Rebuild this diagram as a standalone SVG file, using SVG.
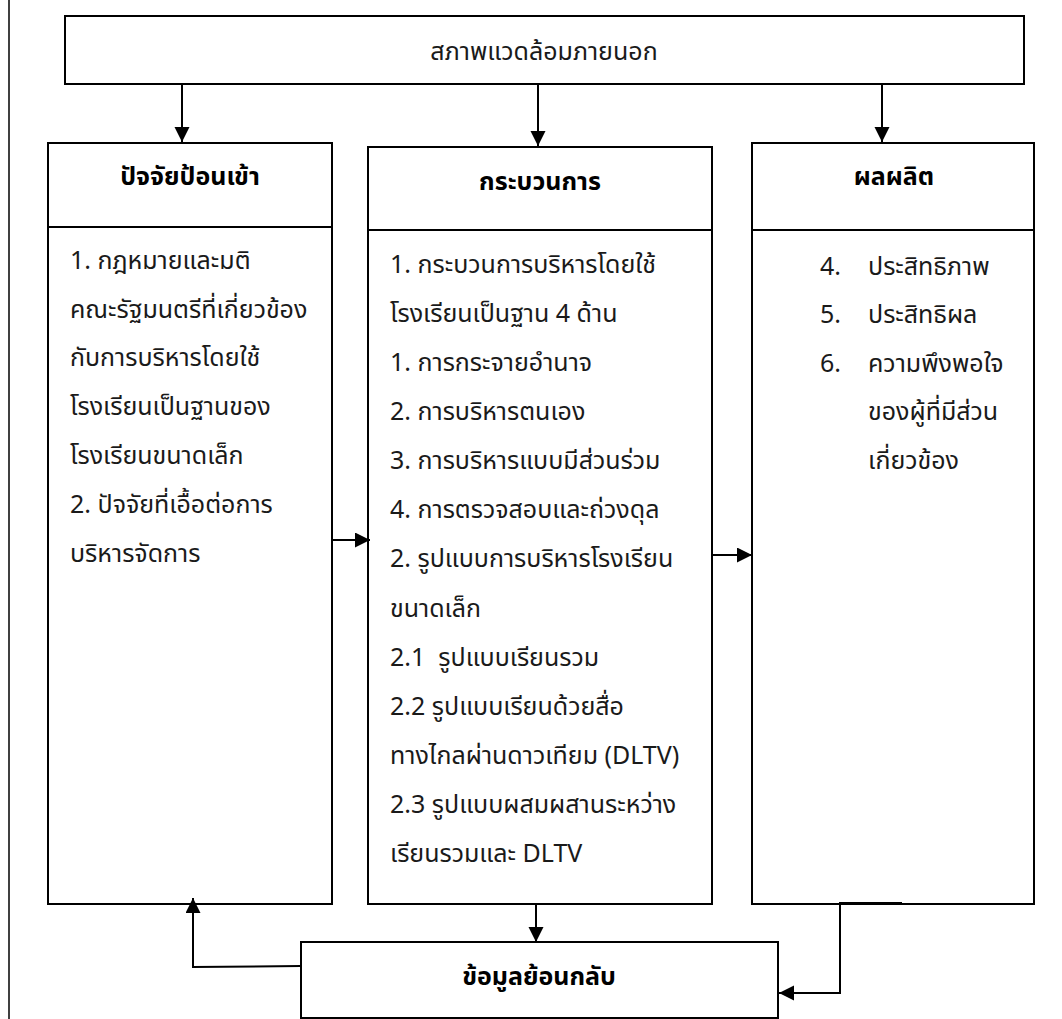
<svg xmlns="http://www.w3.org/2000/svg" width="1062" height="1019" viewBox="0 0 1062 1019">
<defs>
<style>
.box{fill:#fff;stroke:#000;stroke-width:2}
.ln{fill:none;stroke:#000;stroke-width:2}
text{font-family:'Noto Sans Thai','Tahoma','Noto Sans','DejaVu Sans',sans-serif;font-size:25px;fill:#1a1a1a}
.b{font-weight:bold;text-anchor:middle;fill:#000}
.c{text-anchor:middle}
</style>
<marker id="ah" markerUnits="userSpaceOnUse" markerWidth="16" markerHeight="16" viewBox="0 0 16 16" refX="15" refY="7.5" orient="auto">
<path d="M0,0 L15,7.5 L0,15 z" fill="#000"/>
</marker>
</defs>
<rect width="1062" height="1019" fill="#fff"/>
<line x1="9" y1="0" x2="9" y2="1019" stroke="#000" stroke-width="1.5"/>

<g id="environment">
<rect class="box" x="65" y="16" width="959" height="68"/>
<text class="c" x="544" y="60">สภาพแวดล้อมภายนอก</text>
</g>

<g id="input">
<rect class="box" x="48" y="143" width="284" height="761"/>
<line class="ln" x1="48" y1="227" x2="332" y2="227"/>
<text class="b" x="190" y="185">ปัจจัยป้อนเข้า</text>
<text x="70" y="269">1. กฎหมายและมติ</text>
<text x="70" y="318">คณะรัฐมนตรีที่เกี่ยวข้อง</text>
<text x="70" y="366">กับการบริหารโดยใช้</text>
<text x="70" y="415">โรงเรียนเป็นฐานของ</text>
<text x="70" y="464">โรงเรียนขนาดเล็ก</text>
<text x="70" y="513">2. ปัจจัยที่เอื้อต่อการ</text>
<text x="70" y="562">บริหารจัดการ</text>
</g>

<g id="process">
<rect class="box" x="368" y="147" width="344" height="757"/>
<line class="ln" x1="368" y1="230" x2="712" y2="230"/>
<text class="b" x="540" y="190">กระบวนการ</text>
<text x="390" y="273">1. กระบวนการบริหารโดยใช้</text>
<text x="390" y="322">โรงเรียนเป็นฐาน 4 ด้าน</text>
<text x="390" y="371">1. การกระจายอำนาจ</text>
<text x="390" y="420">2. การบริหารตนเอง</text>
<text x="390" y="469">3. การบริหารแบบมีส่วนร่วม</text>
<text x="390" y="518">4. การตรวจสอบและถ่วงดุล</text>
<text x="390" y="567">2. รูปแบบการบริหารโรงเรียน</text>
<text x="390" y="617">ขนาดเล็ก</text>
<text x="390" y="666">2.1&#160; รูปแบบเรียนรวม</text>
<text x="390" y="715">2.2 รูปแบบเรียนด้วยสื่อ</text>
<text x="390" y="764">ทางไกลผ่านดาวเทียม (DLTV)</text>
<text x="390" y="813">2.3 รูปแบบผสมผสานระหว่าง</text>
<text x="390" y="862">เรียนรวมและ DLTV</text>
</g>

<g id="output">
<rect class="box" x="752" y="143" width="282" height="761"/>
<line class="ln" x1="752" y1="230" x2="1034" y2="230"/>
<text class="b" x="894" y="185">ผลผลิต</text>
<text x="820" y="275">4.</text>
<text x="868" y="275">ประสิทธิภาพ</text>
<text x="820" y="323">5.</text>
<text x="868" y="323">ประสิทธิผล</text>
<text x="820" y="372">6.</text>
<text x="868" y="372">ความพึงพอใจ</text>
<text x="868" y="420">ของผู้ที่มีส่วน</text>
<text x="868" y="469">เกี่ยวข้อง</text>
</g>

<g id="feedback">
<rect class="box" x="301" y="942" width="477" height="76"/>
<text class="b" x="539" y="985">ข้อมูลย้อนกลับ</text>
</g>

<g id="connectors">
<line class="ln" x1="182" y1="84" x2="182" y2="142" marker-end="url(#ah)"/>
<line class="ln" x1="538" y1="84" x2="538" y2="146" marker-end="url(#ah)"/>
<line class="ln" x1="882" y1="84" x2="882" y2="142" marker-end="url(#ah)"/>
<line class="ln" x1="332" y1="540" x2="370" y2="540" marker-end="url(#ah)"/>
<line class="ln" x1="712" y1="555" x2="752" y2="555" marker-end="url(#ah)"/>
<line class="ln" x1="536" y1="904" x2="536" y2="942" marker-end="url(#ah)"/>
<polyline class="ln" points="301,966 193,967 193,898" marker-end="url(#ah)"/>
<polyline class="ln" points="902,903 840,903 840,993 779,993" marker-end="url(#ah)"/>
</g>
</svg>
